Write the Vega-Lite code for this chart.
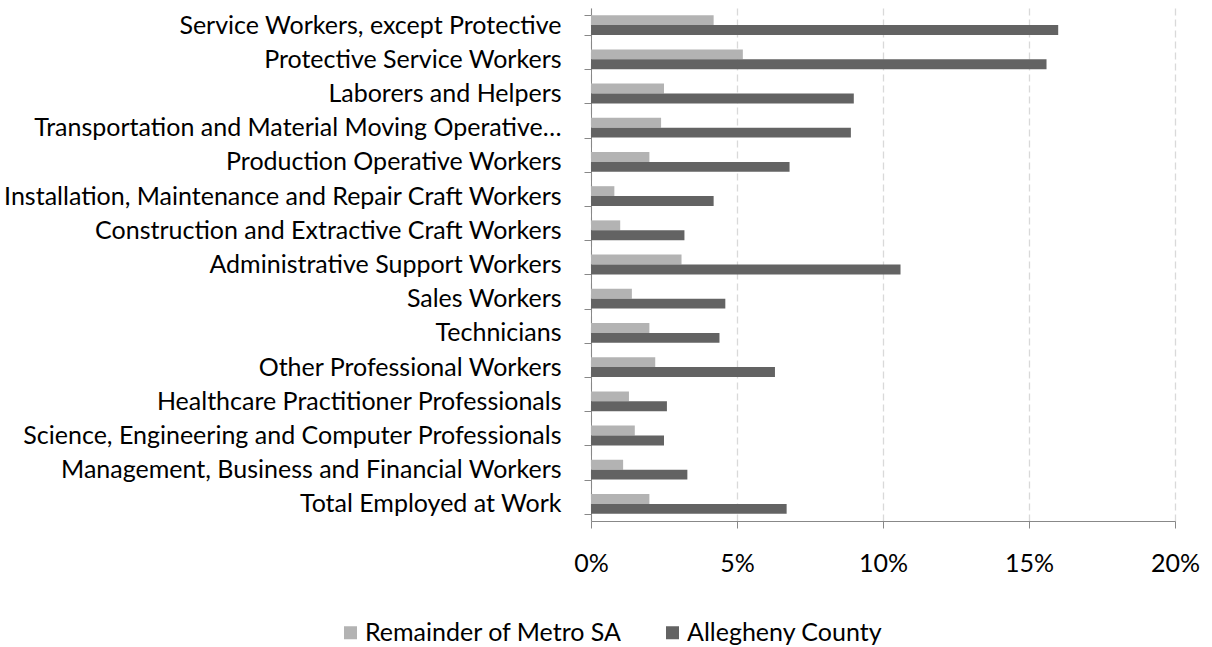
{
  "$schema": "https://vega.github.io/schema/vega-lite/v6.json",
  "autosize": {"type": "none"},
  "padding": {"left": 591, "top": 8, "right": 37, "bottom": 126},
  "width": 584,
  "height": 513,
  "background": "white",
  "config": {
    "view": {"stroke": null},
    "font": "Lato"
  },
  "data": {
    "values": [
      {"category": "Service Workers, except Protective", "area": "Remainder of Metro SA", "value": 4.2},
      {"category": "Service Workers, except Protective", "area": "Allegheny County", "value": 16.0},
      {"category": "Protective Service Workers", "area": "Remainder of Metro SA", "value": 5.2},
      {"category": "Protective Service Workers", "area": "Allegheny County", "value": 15.6},
      {"category": "Laborers and Helpers", "area": "Remainder of Metro SA", "value": 2.5},
      {"category": "Laborers and Helpers", "area": "Allegheny County", "value": 9.0},
      {"category": "Transportation and Material Moving Operative…", "area": "Remainder of Metro SA", "value": 2.4},
      {"category": "Transportation and Material Moving Operative…", "area": "Allegheny County", "value": 8.9},
      {"category": "Production Operative Workers", "area": "Remainder of Metro SA", "value": 2.0},
      {"category": "Production Operative Workers", "area": "Allegheny County", "value": 6.8},
      {"category": "Installation, Maintenance and Repair Craft Workers", "area": "Remainder of Metro SA", "value": 0.8},
      {"category": "Installation, Maintenance and Repair Craft Workers", "area": "Allegheny County", "value": 4.2},
      {"category": "Construction and Extractive Craft Workers", "area": "Remainder of Metro SA", "value": 1.0},
      {"category": "Construction and Extractive Craft Workers", "area": "Allegheny County", "value": 3.2},
      {"category": "Administrative Support Workers", "area": "Remainder of Metro SA", "value": 3.1},
      {"category": "Administrative Support Workers", "area": "Allegheny County", "value": 10.6},
      {"category": "Sales Workers", "area": "Remainder of Metro SA", "value": 1.4},
      {"category": "Sales Workers", "area": "Allegheny County", "value": 4.6},
      {"category": "Technicians", "area": "Remainder of Metro SA", "value": 2.0},
      {"category": "Technicians", "area": "Allegheny County", "value": 4.4},
      {"category": "Other Professional Workers", "area": "Remainder of Metro SA", "value": 2.2},
      {"category": "Other Professional Workers", "area": "Allegheny County", "value": 6.3},
      {"category": "Healthcare Practitioner Professionals", "area": "Remainder of Metro SA", "value": 1.3},
      {"category": "Healthcare Practitioner Professionals", "area": "Allegheny County", "value": 2.6},
      {"category": "Science, Engineering and Computer Professionals", "area": "Remainder of Metro SA", "value": 1.5},
      {"category": "Science, Engineering and Computer Professionals", "area": "Allegheny County", "value": 2.5},
      {"category": "Management, Business and Financial Workers", "area": "Remainder of Metro SA", "value": 1.1},
      {"category": "Management, Business and Financial Workers", "area": "Allegheny County", "value": 3.3},
      {"category": "Total Employed at Work", "area": "Remainder of Metro SA", "value": 2.0},
      {"category": "Total Employed at Work", "area": "Allegheny County", "value": 6.7}
    ]
  },
  "mark": {"type": "bar"},
  "encoding": {
    "y": {
      "field": "category",
      "type": "nominal",
      "sort": null,
      "scale": {"paddingInner": 0.42, "paddingOuter": 0.21},
      "axis": {
        "title": null,
        "tickBand": "extent",
        "domainColor": "#888888",
        "tickColor": "#888888",
        "tickSize": 7,
        "labelPadding": 23,
        "labelLimit": 700,
        "labelFont": "Lato",
        "labelFontSize": 25,
        "labelColor": "#000000",
        "grid": false
      }
    },
    "yOffset": {
      "field": "area",
      "type": "nominal",
      "sort": ["Remainder of Metro SA", "Allegheny County"]
    },
    "x": {
      "field": "value",
      "type": "quantitative",
      "scale": {"domain": [0, 20], "nice": false},
      "axis": {
        "title": null,
        "values": [0, 5, 10, 15, 20],
        "labelExpr": "datum.value + '%'",
        "labelFlush": false,
        "domainColor": "#888888",
        "tickColor": "#888888",
        "tickSize": 7,
        "labelPadding": 23,
        "labelFont": "Lato",
        "labelFontSize": 25,
        "labelColor": "#000000",
        "grid": true,
        "gridColor": "#d9d9d9",
        "gridDash": [7, 4],
        "gridWidth": 1.3
      }
    },
    "color": {
      "field": "area",
      "type": "nominal",
      "sort": ["Remainder of Metro SA", "Allegheny County"],
      "scale": {
        "domain": ["Remainder of Metro SA", "Allegheny County"],
        "range": ["#b3b3b3", "#636363"]
      },
      "legend": {
        "title": null,
        "orient": "none",
        "direction": "horizontal",
        "legendX": -253,
        "legendY": 612,
        "padding": 0,
        "symbolType": "square",
        "symbolSize": 169,
        "symbolStrokeWidth": 0,
        "labelFont": "Lato",
        "labelFontSize": 25,
        "labelColor": "#000000",
        "labelOffset": 2,
        "columnPadding": 38,
        "labelLimit": 400
      }
    }
  }
}
